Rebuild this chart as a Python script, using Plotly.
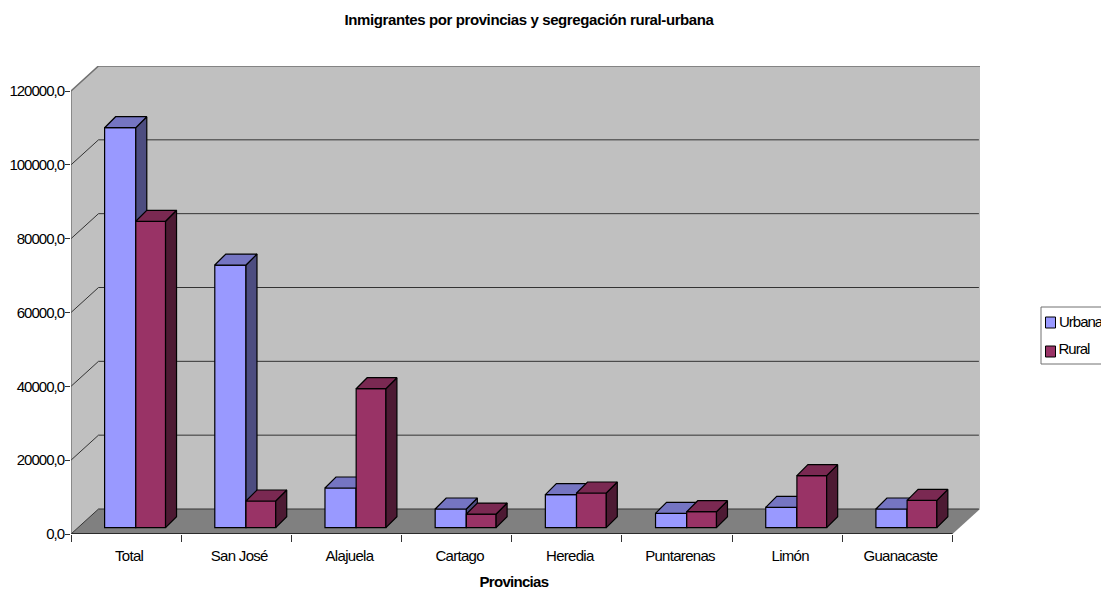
import plotly.graph_objects as go

categories = ["Total", "San José", "Alajuela", "Cartago", "Heredia", "Puntarenas", "Limón", "Guanacaste"]
urbana = [108350, 71150, 10750, 5060, 8940, 3900, 5525, 5060]
rural = [83000, 7230, 37650, 3700, 9400, 4330, 14085, 7400]
y_ticks = [0, 20000, 40000, 60000, 80000, 100000, 120000]
title_text = "Inmigrantes por provincias y segregación rural-urbana"
x_title = "Provincias"
series_names = ["Urbana", "Rural"]

W, H = 1101, 589
L, R, T, B = 71, 980, 66, 534
FONT = "Liberation Sans"
positions = list(range(len(categories)))
PX_X = (R - L) / (len(categories) + 0.25)
PX_Y = (534 - 91) / y_ticks[-1]
WX, WY = 27.5 / PX_X, 25 / PX_Y          # depth of the walls
DX, DY = 11 / PX_X, 11 / PX_Y            # depth of a bar
BASE = 6.3 / PX_Y                        # bars stand a little inside the floor
XMIN, XMAX = -0.5, len(categories) - 0.5
YTOP = y_ticks[-1]


def px(x):
    return (x - L) / (R - L)


def py(y):
    return (B - y) / (B - T)


def faces(values, offset, width):
    tx, ty, sx, sy = [], [], [], []
    for p, v in zip(positions, values):
        xl = p + offset
        xr = xl + width
        t = BASE + v
        tx += [xl, xl + DX, xr + DX, xr, xl, None]
        ty += [t, t + DY, t + DY, t, t, None]
        sx += [xr, xr + DX, xr + DX, xr, xr, None]
        sy += [t, t + DY, BASE + DY, BASE, t, None]
    return tx, ty, sx, sy


def series(name, values, offset, width, front, top, side, xa, ya):
    tx, ty, sx, sy = faces(values, offset, width)
    edge = dict(color="#000000", width=1.2)
    return [
        go.Bar(x=positions, y=values, base=[BASE] * len(values), offset=offset, width=width,
               name=name, marker=dict(color=front, line=edge), xaxis=xa, yaxis=ya,
               showlegend=False, hovertemplate=name + ": %{y}<extra></extra>"),
        go.Scatter(x=sx, y=sy, mode="lines", fill="toself", fillcolor=side, line=edge,
                   xaxis=xa, yaxis=ya, showlegend=False, hoverinfo="skip"),
        go.Scatter(x=tx, y=ty, mode="lines", fill="toself", fillcolor=top, line=edge,
                   xaxis=xa, yaxis=ya, showlegend=False, hoverinfo="skip"),
    ]


def frame(xs, ys, color, width):
    return go.Scatter(x=xs, y=ys, mode="lines", line=dict(color=color, width=width),
                      cliponaxis=False, showlegend=False, hoverinfo="skip")


traces = []
traces += series(series_names[0], urbana, -0.195, 0.283, "#9999FF", "#7575C2", "#4D4D80", "x", "y")
traces += series(series_names[1], rural, 0.088, 0.27, "#993366", "#7A2952", "#4D1A33", "x2", "y2")
traces += [
    frame([XMIN, XMAX], [0, 0], "#2A2A2A", 2.2),
    frame([XMIN, XMIN], [0, YTOP], "#555555", 1),
    frame([XMIN, XMIN + WX, XMAX + WX], [YTOP, YTOP + WY, YTOP + WY], "#707070", 1.6),
]

shapes = [
    dict(type="path", layer="below", xref="x", yref="y", line=dict(width=0), fillcolor="#C0C0C0",
         path=f"M{XMIN},0 L{XMIN + WX},{WY} L{XMAX + WX},{WY} L{XMAX + WX},{YTOP + WY} "
              f"L{XMIN + WX},{YTOP + WY} L{XMIN},{YTOP} Z"),
    dict(type="path", layer="below", xref="x", yref="y", line=dict(width=0), fillcolor="#808080",
         path=f"M{XMIN},0 L{XMIN + WX},{WY} L{XMAX + WX},{WY} L{XMAX},0 Z"),
]
for v in y_ticks[:-1]:
    shapes.append(dict(type="path", layer="below", xref="x", yref="y",
                       line=dict(color="#333333", width=1),
                       path=f"M{XMIN},{v} L{XMIN + WX},{v + WY} L{XMAX + WX - 0.01},{v + WY}"))

# legend box
shapes.append(dict(type="rect", xref="paper", yref="paper", x0=px(1041), x1=px(1103), y0=py(364), y1=py(307),
                   line=dict(color="#707070", width=1), fillcolor="#FFFFFF"))
shapes.append(dict(type="rect", xref="paper", yref="paper", x0=px(1045.5), x1=px(1055.5), y0=py(328), y1=py(317),
                   line=dict(color="#000000", width=1), fillcolor="#9999FF"))
shapes.append(dict(type="rect", xref="paper", yref="paper", x0=px(1045.5), x1=px(1055.5), y0=py(357), y1=py(346),
                   line=dict(color="#000000", width=1), fillcolor="#993366"))

annotations = [
    dict(text=series_names[0], x=px(1054), y=py(321), xref="paper", yref="paper", xanchor="left", yanchor="middle",
         showarrow=False, font=dict(size=15, color="#000000", family=FONT)),
    dict(text=series_names[1], x=px(1054), y=py(348), xref="paper", yref="paper", xanchor="left", yanchor="middle",
         showarrow=False, font=dict(size=15, color="#000000", family=FONT)),
    dict(text="<b>" + x_title + "</b>", x=px(514), y=py(581), xref="paper", yref="paper", xanchor="center",
         yanchor="middle", showarrow=False, font=dict(size=15, color="#000000", family=FONT)),
    dict(text="<b>" + title_text + "</b>", x=px(529), y=py(20), xref="paper", yref="paper", xanchor="center",
         yanchor="middle", showarrow=False, font=dict(size=15, color="#000000", family=FONT)),
]

xrange_ = [XMIN, XMAX + WX]
yrange_ = [0, YTOP + WY]
fig = go.Figure(traces)
fig.update_layout(
    width=W, height=H, autosize=False,
    margin=dict(l=L, r=W - R, t=T, b=H - B, pad=0),
    paper_bgcolor="#FFFFFF", plot_bgcolor="rgba(0,0,0,0)",
    showlegend=False, separators=",.",
    font=dict(family=FONT, size=15, color="#000000"),
    shapes=shapes, annotations=annotations,
    xaxis=dict(range=xrange_, showgrid=False, zeroline=False, showline=False, automargin=False,
               tickmode="array", tickvals=[p + 0.027 for p in positions], ticktext=categories, ticks="",
               ticklabelstandoff=11, fixedrange=True,
               minor=dict(tickmode="array", tickvals=[p - 0.5 for p in positions] + [XMAX],
                          ticks="outside", ticklen=7, tickwidth=1, tickcolor="#333333", showgrid=False)),
    yaxis=dict(range=yrange_, showgrid=False, zeroline=False, showline=False, automargin=False,
               tickmode="array", tickvals=y_ticks, tickformat=".1f", ticks="outside",
               ticklen=5, tickwidth=1, tickcolor="#333333", fixedrange=True, ticklabelstandoff=-2),
    xaxis2=dict(range=xrange_, overlaying="x", visible=False, fixedrange=True),
    yaxis2=dict(range=yrange_, overlaying="y", visible=False, fixedrange=True),
)
page_css = """
document.body.style.margin = '0';
var s = document.createElement('style');
s.textContent = '.ytick text{letter-spacing:-1px} .xtick text{letter-spacing:-0.7px} .annotation-text{letter-spacing:-1px}';
document.head.appendChild(s);
var a = document.querySelectorAll('.annotation-text');
a[2].style.letterSpacing = '-0.7px';
a[3].style.letterSpacing = '-0.4px';
"""
fig.write_html("out.html", post_script=page_css, config=dict(displayModeBar=False))
